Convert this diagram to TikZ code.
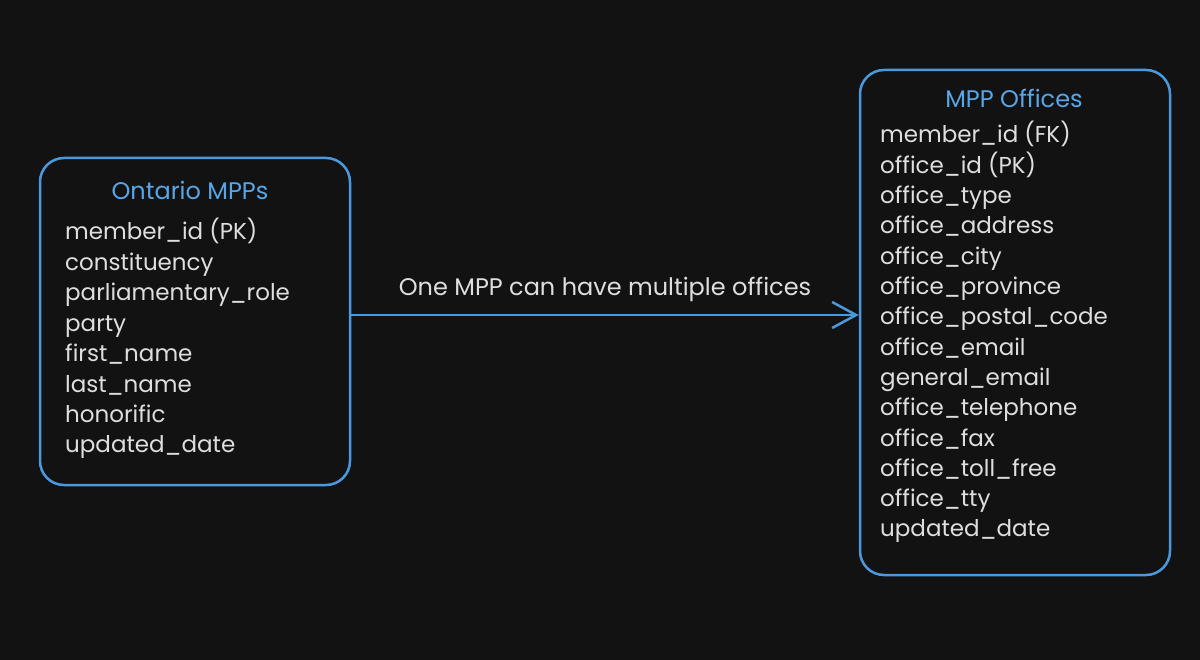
\documentclass[tikz,border=0pt]{standalone}
\usepackage{fontspec}
\setmainfont{Poppins}
\usetikzlibrary{arrows.meta}
\definecolor{bg}{HTML}{121212}
\definecolor{blueline}{HTML}{4A98DE}
\definecolor{bluetext}{HTML}{58A6E8}
\definecolor{fieldtext}{HTML}{DEDEDE}
\tikzset{
  tablebox/.style={draw=blueline, line width=2.5pt, rounded corners=24pt, inner sep=0pt},
  field/.style={anchor=base west, inner sep=0pt, text=fieldtext, font=\fontsize{23}{27}\selectfont},
  tabletitle/.style={anchor=base, inner sep=0pt, text=bluetext, font=\fontsize{24}{28}\selectfont},
  rel/.style={draw=blueline, line width=2.5pt, -{Straight Barb[length=24pt,width=26pt,line width=2.5pt]}},
  rellabel/.style={anchor=base, inner sep=0pt, text=fieldtext, font=\fontsize{24}{28}\selectfont}
}
\begin{document}
\begin{tikzpicture}[x=1pt,y=-1pt]
\fill[bg] (0,0) rectangle (1200,660);
\useasboundingbox (0,0) rectangle (1200,660);
\node[tablebox, minimum width=310pt, minimum height=327pt] (mpps) at (195,321.5) {};
\node[tablebox, minimum width=310pt, minimum height=505pt] (offices) at (1015,322.5) {};
\node[tabletitle] (mppstitle) at (190,200) {Ontario MPPs};
\node[tabletitle] (officestitle) at (1014,108) {MPP Offices};
\foreach \t [count=\i] in {member\_id (PK),constituency,parliamentary\_role,party,first\_name,last\_name,honorific,updated\_date}
  \node[field] (l\i) at (65,{240+30.4*(\i-1)}) {\t};
\foreach \t [count=\i] in {member\_id (FK),office\_id (PK),office\_type,office\_address,office\_city,office\_province,office\_postal\_code,office\_email,general\_email,office\_telephone,office\_fax,office\_toll\_free,office\_tty,updated\_date}
  \node[field] (r\i) at (880,{143+30.3*(\i-1)}) {\t};
\draw[rel] ([yshift=6.5pt]mpps.east) -- ([yshift=7.5pt]offices.west)
  node[rellabel, midway, yshift=19pt] (lbl) {One MPP can have multiple offices};
\end{tikzpicture}
\end{document}
